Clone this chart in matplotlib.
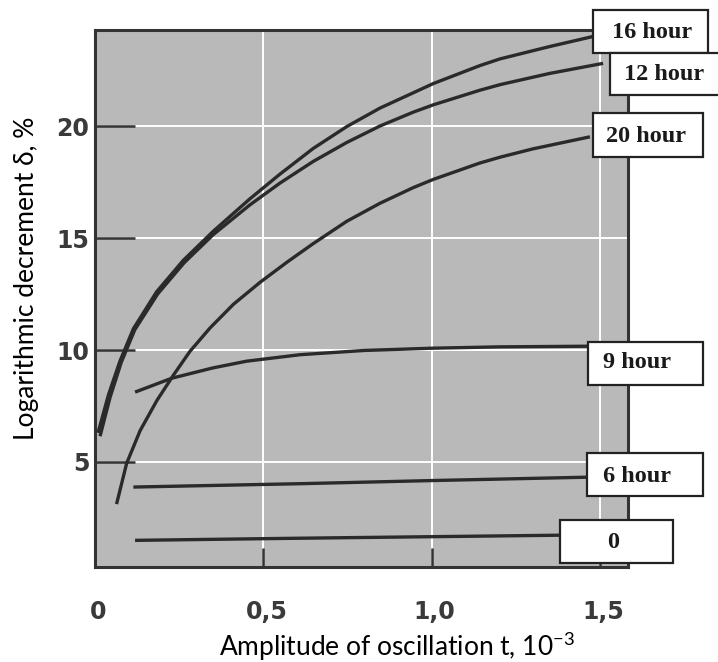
import matplotlib
matplotlib.use("Agg")
import matplotlib.pyplot as plt
from matplotlib.patches import Rectangle
from matplotlib.transforms import ScaledTranslation

# ---- data ----
x_16h = [0.009, 0.040, 0.074, 0.114, 0.183, 0.262, 0.351, 0.460, 0.549, 0.648, 0.748,
         0.846, 1.005, 1.143, 1.203, 1.350, 1.479]
y_16h = [6.30, 8.00, 9.50, 10.95, 12.60, 14.00, 15.30, 16.75, 17.85, 19.00, 19.98,
         20.80, 21.90, 22.70, 23.00, 23.55, 24.00]

x_12h = [0.015, 0.045, 0.078, 0.118, 0.186, 0.265, 0.351, 0.460, 0.549, 0.648, 0.748,
         0.846, 0.945, 1.005, 1.143, 1.203, 1.350, 1.509]
y_12h = [6.15, 7.90, 9.45, 10.90, 12.50, 13.90, 15.15, 16.48, 17.45, 18.42, 19.27,
         20.00, 20.62, 20.95, 21.60, 21.85, 22.35, 22.80]

x_20h = [0.064, 0.094, 0.134, 0.184, 0.233, 0.282, 0.342, 0.411, 0.490, 0.570, 0.648,
         0.748, 0.846, 0.945, 1.005, 1.143, 1.203, 1.300, 1.470]
y_20h = [3.12, 4.94, 6.40, 7.75, 8.88, 9.94, 10.99, 12.04, 13.02, 13.92, 14.75,
         15.75, 16.55, 17.25, 17.62, 18.35, 18.61, 18.98, 19.52]

x_9h = [0.119, 0.228, 0.350, 0.450, 0.609, 0.800, 1.000, 1.200, 1.470]
y_9h = [8.12, 8.74, 9.20, 9.50, 9.79, 9.98, 10.08, 10.14, 10.17]

x_6h = [0.114, 0.609, 1.000, 1.461]
y_6h = [3.88, 4.03, 4.17, 4.32]

x_0h = [0.119, 0.579, 1.381]
y_0h = [1.50, 1.59, 1.73]

series_x = [x_16h, x_12h, x_20h, x_9h, x_6h, x_0h]
series_y = [y_16h, y_12h, y_20h, y_9h, y_6h, y_0h]

x_ticks = [0, 0.5, 1.0, 1.5]
x_tick_labels = ["0", "0,5", "1,0", "1,5"]
y_ticks = [5, 10, 15, 20]
y_tick_labels = ["5", "10", "15", "20"]

labels = ["16 hour", "12 hour", "20 hour", "9 hour", "6 hour", "0"]

# label boxes: (left px, top px, right px, bottom px, text centre x px, text centre y px)
box_layout = [
    (593, 10, 708, 53, 652, 33),
    (610, 53, 722, 95, 664, 75),
    (593, 113, 703, 157, 646, 136),
    (588, 342, 703, 385, 637, 363),
    (587, 453, 703, 496, 637, 476),
    (560, 520, 673, 563, 613, 543),
]

W, H = 718, 662
fig = plt.figure(figsize=(W / 100, H / 100), dpi=100)
fig.patch.set_facecolor("white")
ax = fig.add_axes([95 / W, 1 - 567 / H, (628 - 95) / W, (567 - 30) / H])
ax.set_facecolor("#b9b9b9")
ax.set_xlim(0, 1.583)
ax.set_ylim(0.31, 24.29)

dark = "#2a2a2a"
for xs, ys in zip(series_x, series_y):
    ax.plot(xs, ys, color=dark, lw=2.4, solid_capstyle="butt",
            solid_joinstyle="round", zorder=3)

ax.set_xticks(x_ticks)
ax.set_xticklabels(x_tick_labels)
ax.set_yticks(y_ticks)
ax.set_yticklabels(y_tick_labels)
ax.grid(True, color="white", lw=1.4)
ax.set_axisbelow(True)
ax.tick_params(axis="y", direction="in", length=29, width=1.8, color="#333333", pad=4)
ax.tick_params(axis="x", direction="in", length=14, width=1.8, color="#333333", pad=24)
shift = ScaledTranslation(3 / 100, 0, fig.dpi_scale_trans)
for lab in ax.get_xticklabels():
    lab.set_transform(lab.get_transform() + shift)
for lab in ax.get_xticklabels() + ax.get_yticklabels():
    lab.set_fontfamily("DejaVu Sans")
    lab.set_fontweight("bold")
    lab.set_fontsize(17)
    lab.set_color("#3a3a3a")

for s in ax.spines.values():
    s.set_linewidth(2.2)
    s.set_color("#333333")

plt.rcParams["mathtext.fontset"] = "custom"
plt.rcParams["mathtext.rm"] = "Lato"

ax.set_xlabel("Amplitude of oscillation t, 10$^{\\mathregular{-3}}$",
              family=["Lato", "DejaVu Sans"], fontsize=19)
ax.xaxis.set_label_coords((397 - 95) / 533, (567 - 646) / 537)
ax.xaxis.label.set_va("center")
ax.set_ylabel("Logarithmic decrement δ, %", family=["Lato", "DejaVu Sans"], fontsize=19)
ax.yaxis.set_label_coords((27 - 95) / 533, (567 - 278) / 537)
ax.yaxis.label.set_va("center")

for lab, (l, t, r, b, cx, cy) in zip(labels, box_layout):
    fig.add_artist(Rectangle((l / W, 1 - b / H), (r - l) / W, (b - t) / H,
                             transform=fig.transFigure, facecolor="white",
                             edgecolor="#222222", lw=1.6, zorder=5))
    fig.text(cx / W, 1 - cy / H, lab, ha="center", va="center", fontsize=17.5,
             family="Liberation Serif", weight="bold", color="#1a1a1a", zorder=6)

fig.savefig("out.png", dpi=100)
